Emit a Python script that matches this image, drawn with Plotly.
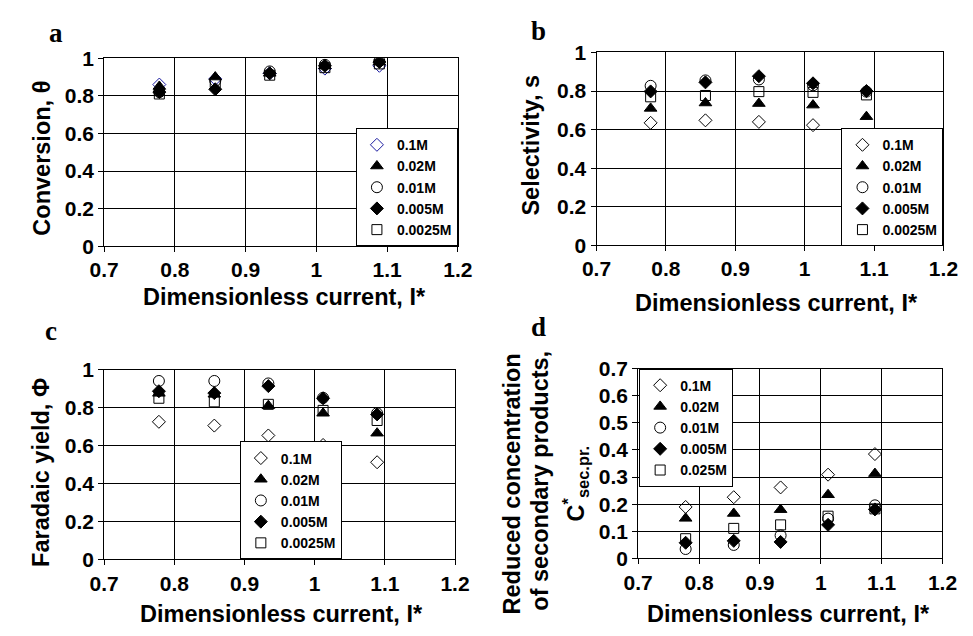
import plotly.graph_objects as go

W, H = 973, 636

# ---------------- data ----------------
current = [0.778, 0.857, 0.934, 1.012, 1.089]
labels_abc = ["0.1M", "0.02M", "0.01M", "0.005M", "0.0025M"]
labels_d = ["0.1M", "0.02M", "0.01M", "0.005M", "0.025M"]

conv_01 = [0.86, 0.89, 0.92, 0.945, 0.96]
conv_002 = [0.85, 0.90, 0.92, 0.96, 0.98]
conv_001 = [0.82, 0.88, 0.93, 0.965, 0.985]
conv_0005 = [0.82, 0.835, 0.92, 0.96, 0.98]
conv_00025 = [0.81, 0.87, 0.91, 0.95, 0.97]

sel_01 = [0.635, 0.648, 0.64, 0.623, 0.563]
sel_002 = [0.71, 0.738, 0.735, 0.727, 0.667]
sel_001 = [0.827, 0.855, 0.86, 0.83, 0.797]
sel_0005 = [0.798, 0.845, 0.877, 0.84, 0.80]
sel_00025 = [0.77, 0.777, 0.797, 0.793, 0.78]

far_01 = [0.725, 0.705, 0.653, 0.603, 0.512]
far_002 = [0.875, 0.87, 0.81, 0.77, 0.665]
far_001 = [0.94, 0.94, 0.927, 0.851, 0.77]
far_0005 = [0.886, 0.876, 0.913, 0.849, 0.764]
far_00025 = [0.849, 0.83, 0.817, 0.785, 0.732]

sec_01 = [0.19, 0.226, 0.262, 0.309, 0.385]
sec_002 = [0.148, 0.166, 0.18, 0.235, 0.313]
sec_001 = [0.035, 0.05, 0.085, 0.147, 0.196]
sec_0005 = [0.058, 0.065, 0.061, 0.124, 0.181]
sec_0025 = [0.073, 0.111, 0.124, 0.156, 0.183]

x_ticks = [0.7, 0.8, 0.9, 1.0, 1.1, 1.2]
x_ticktext = ["0.7", "0.8", "0.9", "1", "1.1", "1.2"]
y_ticks_abc = [0, 0.2, 0.4, 0.6, 0.8, 1.0]
y_ticktext_abc = ["0", "0.2", "0.4", "0.6", "0.8", "1"]
y_ticks_d = [0, 0.1, 0.2, 0.3, 0.4, 0.5, 0.6, 0.7]
y_ticktext_d = ["0", "0.1", "0.2", "0.3", "0.4", "0.5", "0.6", "0.7"]

# ---------------- styling ----------------
SANS = "Liberation Sans, Arial, sans-serif"
SERIF = "Liberation Serif, Times New Roman, serif"

symbols = ["diamond-open", "triangle-up", "circle-open", "diamond", "square-open"]
sizes = [10, 11, 11, 10, 10]


def px_x(p):
    return p / W


def px_y(p):
    return 1 - p / H


# panel plot-area rectangles in pixels: (left, right, top, bottom)
panels = {
    "a": (92, 457, 48, 243),
    "b": (600, 958, 42, 242),
    "c": (92, 454, 371, 568),
    "d": (643, 957, 370, 567),
}

fig = go.Figure()

series = [
    ("a", [conv_01, conv_002, conv_001, conv_0005, conv_00025], labels_abc, "x", "y", "legend"),
    ("b", [sel_01, sel_002, sel_001, sel_0005, sel_00025], labels_abc, "x2", "y2", "legend2"),
    ("c", [far_01, far_002, far_001, far_0005, far_00025], labels_abc, "x3", "y3", "legend3"),
    ("d", [sec_01, sec_002, sec_001, sec_0005, sec_0025], labels_d, "x4", "y4", "legend4"),
]

for key, ys, labs, xa, ya, leg in series:
    for i, (yv, lab) in enumerate(zip(ys, labs)):
        color = "black"
        if key == "a" and i == 0:
            color = "#1a1aa0"
        fig.add_trace(go.Scatter(
            x=current, y=yv, mode="markers", name=lab,
            xaxis=xa, yaxis=ya, legend=leg,
            marker=dict(symbol=symbols[i], size=sizes[i], color=color,
                        line=dict(color=color, width=1)),
        ))

axis_common = dict(
    showgrid=True, gridcolor="black", gridwidth=1,
    showline=True, linecolor="black", linewidth=1, mirror=True,
    ticks="outside", ticklen=5, tickcolor="black",
    zeroline=False,
    tickfont=dict(family=SANS, size=21, color="black", weight="bold"),
)

layout = dict(
    width=W, height=H,
    margin=dict(l=0, r=0, t=0, b=0),
    paper_bgcolor="white", plot_bgcolor="white",
    showlegend=True,
)

names = [("a", "xaxis", "yaxis", "y", "x"), ("b", "xaxis2", "yaxis2", "y2", "x2"),
         ("c", "xaxis3", "yaxis3", "y3", "x3"), ("d", "xaxis4", "yaxis4", "y4", "x4")]
for key, xn, yn, yanch, xanch in names:
    l, r, t, b = panels[key]
    layout[xn] = dict(axis_common, domain=[px_x(l), px_x(r)], range=[0.7, 1.2],
                      tickvals=x_ticks, ticktext=x_ticktext, anchor=yanch)
    if key == "d":
        layout[yn] = dict(axis_common, domain=[px_y(b), px_y(t)], range=[0, 0.7],
                          tickvals=y_ticks_d, ticktext=y_ticktext_d, anchor=xanch)
    else:
        layout[yn] = dict(axis_common, domain=[px_y(b), px_y(t)], range=[0, 1.0],
                          tickvals=y_ticks_abc, ticktext=y_ticktext_abc, anchor=xanch)

legend_common = dict(
    bgcolor="white", bordercolor="black", borderwidth=1,
    font=dict(family=SANS, size=14, color="black", weight="bold"),
    tracegroupgap=0, itemwidth=30,
)
layout["legend"] = dict(legend_common, x=px_x(457), y=px_y(243), xanchor="right", yanchor="bottom")
layout["legend2"] = dict(legend_common, x=px_x(958), y=px_y(243), xanchor="right", yanchor="bottom")
layout["legend3"] = dict(legend_common, x=px_x(232), y=px_y(568), xanchor="left", yanchor="bottom")
layout["legend4"] = dict(legend_common, x=px_x(644), y=px_y(370), xanchor="left", yanchor="top")

fig.update_layout(**layout)

title_font = dict(family=SANS, size=23.5, color="black", weight="bold")
label_font = dict(family=SERIF, size=27, color="black", weight="bold")


def ann(text, x, y, font, angle=0):
    fig.add_annotation(text=text, x=px_x(x), y=px_y(y), xref="paper", yref="paper",
                       xanchor="center", yanchor="middle", showarrow=False,
                       font=font, textangle=angle)


# panel letters
ann("a", 42, 22, label_font)
ann("b", 540, 20, label_font)
ann("c", 37, 331, label_font)
ann("d", 540, 327, label_font)

# x titles
ann("Dimensionless current, I*", 278, 296, title_font)
ann("Dimensionless current, I*", 786, 302, title_font)
ann("Dimensionless current, I*", 275, 625, title_font)
ann("Dimensionless current, I*", 798, 625, title_font)

# y titles
ann("Conversion, θ", 27, 152, title_font, -90)
ann("Selectivity, s", 532, 138, title_font, -90)
ann("Faradaic yield, Φ", 27, 478, title_font, -90)
ann("Reduced concentration", 513, 490, title_font, -90)
ann("of secondary products,", 542, 486, title_font, -90)
ann("C<sup>*</sup><sub>sec.pr.</sub>", 578, 490, title_font, -90)

fig.write_html("out.html")
